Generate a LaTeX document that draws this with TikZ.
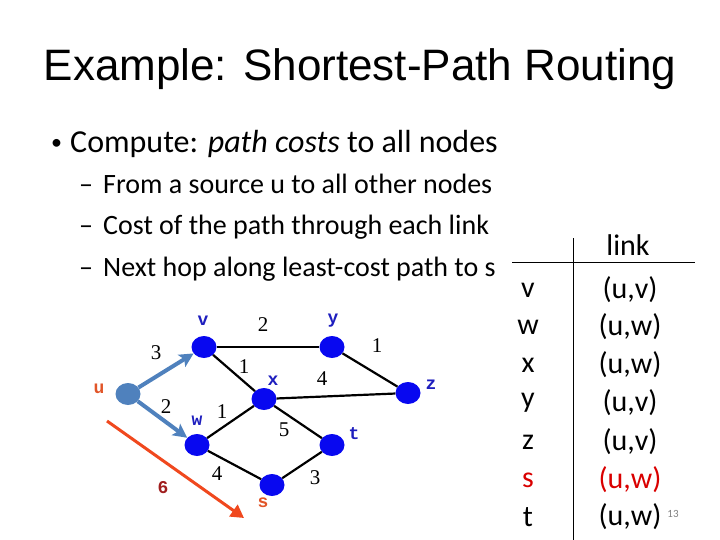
\documentclass[tikz,border=0pt]{standalone}
\usepackage{fontspec}
\setmainfont{Carlito}
\newfontfamily\titlefont{Liberation Sans}
\newfontfamily\labfont{Liberation Mono}
\newfontfamily\numfont{Liberation Serif}
\usetikzlibrary{arrows.meta,shapes.geometric}
\definecolor{nodeblue}{RGB}{8,8,240}
\definecolor{labblue}{RGB}{30,30,190}
\definecolor{steel}{RGB}{79,129,189}
\definecolor{redarrow}{RGB}{240,72,30}
\definecolor{lablred}{RGB}{225,85,40}
\definecolor{darkred}{RGB}{160,30,30}
\tikzset{
  vert/.style={ellipse, fill=nodeblue, minimum width=25pt, minimum height=22pt, inner sep=0pt},
  srcvert/.style={vert, fill=steel},
  nlab/.style={font=\labfont\bfseries\fontsize{18}{18}\selectfont, text=labblue, inner sep=0pt},
  wlab/.style={font=\numfont\fontsize{21}{21}\selectfont, inner sep=0pt},
  edge/.style={line width=2.2pt, black},
  tree/.style={line width=4pt, steel, -{Stealth[length=14pt,width=14pt,inset=3pt]}},
  redarr/.style={line width=3pt, redarrow, -{Triangle[length=13pt,width=14pt]}},
  bul/.style={anchor=base west, inner sep=0pt, font=\fontsize{32}{32}\selectfont},
  subbul/.style={anchor=base west, inner sep=0pt, font=\fontsize{28}{28}\selectfont},
  tab/.style={inner sep=0pt, font=\fontsize{30}{30}\selectfont},
  rule/.style={line width=1pt, black}
}
\begin{document}
\begin{tikzpicture}[x=1pt,y=-1pt]
\useasboundingbox (0,0) rectangle (720,540);
% title
\node[font=\titlefont\fontsize{44}{44}\selectfont, inner sep=0pt] (title) at (360,69) {Example: Shortest-Path Routing};
% bullets
\node[bul, font=\fontsize{22}{22}\selectfont] (b0) at (51,150) {•};
\node[bul] (b1) at (70,153) {Compute: \textit{path costs} to all nodes};
\node[subbul] (d1) at (79,194) {–};
\node[subbul] (s1) at (103,194) {From a source u to all other nodes};
\node[subbul] (d2) at (79,235) {–};
\node[subbul] (s2) at (103,235) {Cost of the path through each link};
\node[subbul] (d3) at (79,276) {–};
\node[subbul] (s3) at (103,276) {Next hop along least-cost path to s};
% graph nodes
\node[srcvert] (u) at (128,394) {};
\node[vert] (v) at (204,347) {};
\node[vert] (y) at (332,347) {};
\node[vert] (x) at (264,399) {};
\node[vert] (z) at (408,393) {};
\node[vert] (w) at (197,445) {};
\node[vert] (t) at (332,445) {};
\node[vert] (s) at (272,485) {};
% edges
\draw[edge] (v) -- (y);
\draw[edge] (v) -- (x);
\draw[edge] (y) -- (z);
\draw[edge] (x) -- (z);
\draw[edge] (w) -- (x);
\draw[edge] (x) -- (t);
\draw[edge] (w) -- (s);
\draw[edge] (s) -- (t);
\draw[tree] (u) -- (v);
\draw[tree] (u) -- (w);
\coordinate (r0) at (107,421);
\coordinate (r1) at (244,518);
\draw[redarr] (r0) -- (r1);
% node labels
\node[nlab] (lv) at (203,321) {v};
\node[nlab] (ly) at (333,321) {y};
\node[nlab] (lx) at (273,381) {x};
\node[nlab] (lz) at (431,385) {z};
\node[nlab] (lw) at (197,421) {w};
\node[nlab] (lt) at (354,434) {t};
\node[nlab, text=lablred] (ls) at (263,503) {s};
\node[nlab, text=lablred] (lu) at (99,389) {u};
\node[nlab, text=darkred] (l6) at (163,488) {6};
% weights
\node[wlab] (w1) at (156,353) {3};
\node[wlab] (w2) at (263,325) {2};
\node[wlab] (w3) at (377,346) {1};
\node[wlab] (w4) at (244,367) {1};
\node[wlab] (w5) at (322,379) {4};
\node[wlab] (w6) at (166,407) {2};
\node[wlab] (w7) at (222,412) {1};
\node[wlab] (w8) at (284,430) {5};
\node[wlab] (w9) at (217,474) {4};
\node[wlab] (w10) at (315,478) {3};
% table
\coordinate (vt0) at (573,238);
\coordinate (vt1) at (573,540);
\coordinate (ht0) at (512,262);
\coordinate (ht1) at (695,262);
\draw[rule] (vt0) -- (vt1);
\draw[rule] (ht0) -- (ht1);
\node[tab] (hl) at (628,245) {link};
\node[tab] (c1) at (528,290) {v};
\node[tab] (c2) at (528,327) {w};
\node[tab] (c3) at (528,365) {x};
\node[tab] (c4) at (528,403) {y};
\node[tab] (c5) at (528,442) {z};
\node[tab, text=red!85!black] (c6) at (528,480) {s};
\node[tab] (c7) at (528,517) {t};
\node[tab] (e1) at (630,290) {(u,v)};
\node[tab] (e2) at (630,327) {(u,w)};
\node[tab] (e3) at (630,365) {(u,w)};
\node[tab] (e4) at (630,403) {(u,v)};
\node[tab] (e5) at (630,442) {(u,v)};
\node[tab, text=red!85!black] (e6) at (630,480) {(u,w)};
\node[tab] (e7) at (630,517) {(u,w)};
\node[inner sep=0pt, font=\fontsize{11}{11}\selectfont, text=gray] (pg) at (673,514) {13};
\end{tikzpicture}
\end{document}
